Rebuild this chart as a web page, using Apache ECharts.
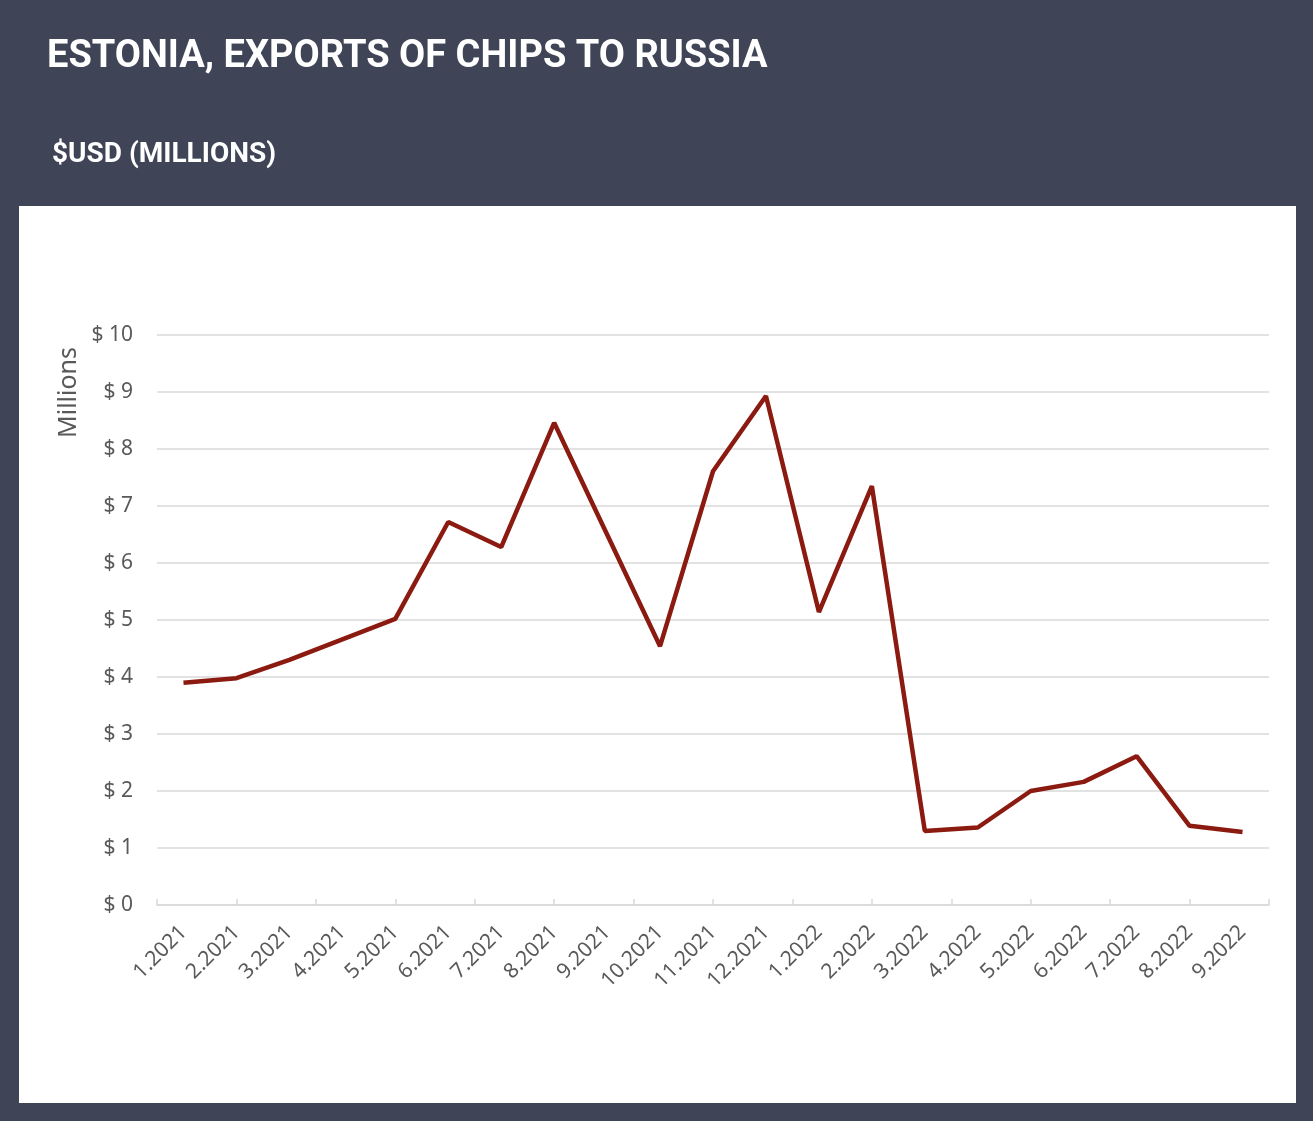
<!DOCTYPE html>
<html>
<head>
<meta charset="utf-8">
<script src="https://cdn.jsdelivr.net/npm/echarts@6/dist/echarts.min.js"></script>
<style>
html,body{margin:0;padding:0;background:#3f4456;}
#chart{width:1313px;height:1121px;}
</style>
</head>
<body>
<div id="chart"></div>
<script>
const titleText = 'ESTONIA, EXPORTS OF CHIPS TO RUSSIA';
const subtitleText = '$USD (MILLIONS)';
const axisNameText = 'Millions';
const categories = ['1.2021','2.2021','3.2021','4.2021','5.2021','6.2021','7.2021','8.2021','9.2021','10.2021','11.2021','12.2021','1.2022','2.2022','3.2022','4.2022','5.2022','6.2022','7.2022','8.2022','9.2022'];
const exportValues = [3.9, 3.98, 4.3, 4.66, 5.02, 6.72, 6.28, 8.46, 6.5, 4.54, 7.61, 8.93, 5.14, 7.35, 1.3, 1.36, 2.0, 2.16, 2.61, 1.39, 1.28];
const yMin = 0, yMax = 10, yStep = 1;

const chart = echarts.init(document.getElementById('chart'), null, {renderer: 'canvas'});
const font = '"Noto Sans", sans-serif';
chart.setOption({
  backgroundColor: '#3f4456',
  animation: false,
  graphic: [
    {type: 'rect', left: 19, top: 206, shape: {width: 1277, height: 897}, style: {fill: '#ffffff'}, z: -10},
    {type: 'text', left: 47, top: 38, style: {text: titleText, fill: '#ffffff', font: 'bold 38px Roboto, sans-serif'}},
    {type: 'text', left: 52, top: 141, style: {text: subtitleText, fill: '#ffffff', font: 'bold 28px Roboto, sans-serif'}},
    {type: 'text', x: 56, y: 438, rotation: Math.PI / 2, style: {text: axisNameText, fill: '#595959', font: '25px ' + font, textVerticalAlign: 'top'}}
  ],
  grid: {left: 157, right: 44, top: 335, bottom: 216, containLabel: false},
  xAxis: [
    {
      type: 'category', data: categories, boundaryGap: true, position: 'bottom',
      axisLine: {show: true, lineStyle: {color: '#d9d9d9', width: 1.5}},
      axisTick: {show: false},
      axisLabel: {rotate: 45, margin: 24, color: '#595959', fontSize: 21, fontFamily: font, interval: 0},
      splitLine: {show: false}
    },
    {
      type: 'value', min: 0, max: 21, interval: 1.5, position: 'bottom',
      axisLine: {show: false},
      axisTick: {show: true, inside: true, length: 6, lineStyle: {color: '#d9d9d9', width: 1.5}},
      axisLabel: {show: false},
      splitLine: {show: false}
    }
  ],
  yAxis: {
    type: 'value', min: yMin, max: yMax, interval: yStep,
    axisLine: {show: false}, axisTick: {show: false},
    axisLabel: {margin: 24, color: '#595959', fontSize: 21, fontFamily: font, formatter: v => '$ ' + v},
    splitLine: {lineStyle: {color: '#d9d9d9', width: 1.5}}
  },
  series: [{
    type: 'line', data: exportValues, xAxisIndex: 0, yAxisIndex: 0,
    symbol: 'none', lineStyle: {color: '#8b1a10', width: 4.5}
  }]
});
</script>
</body>
</html>
